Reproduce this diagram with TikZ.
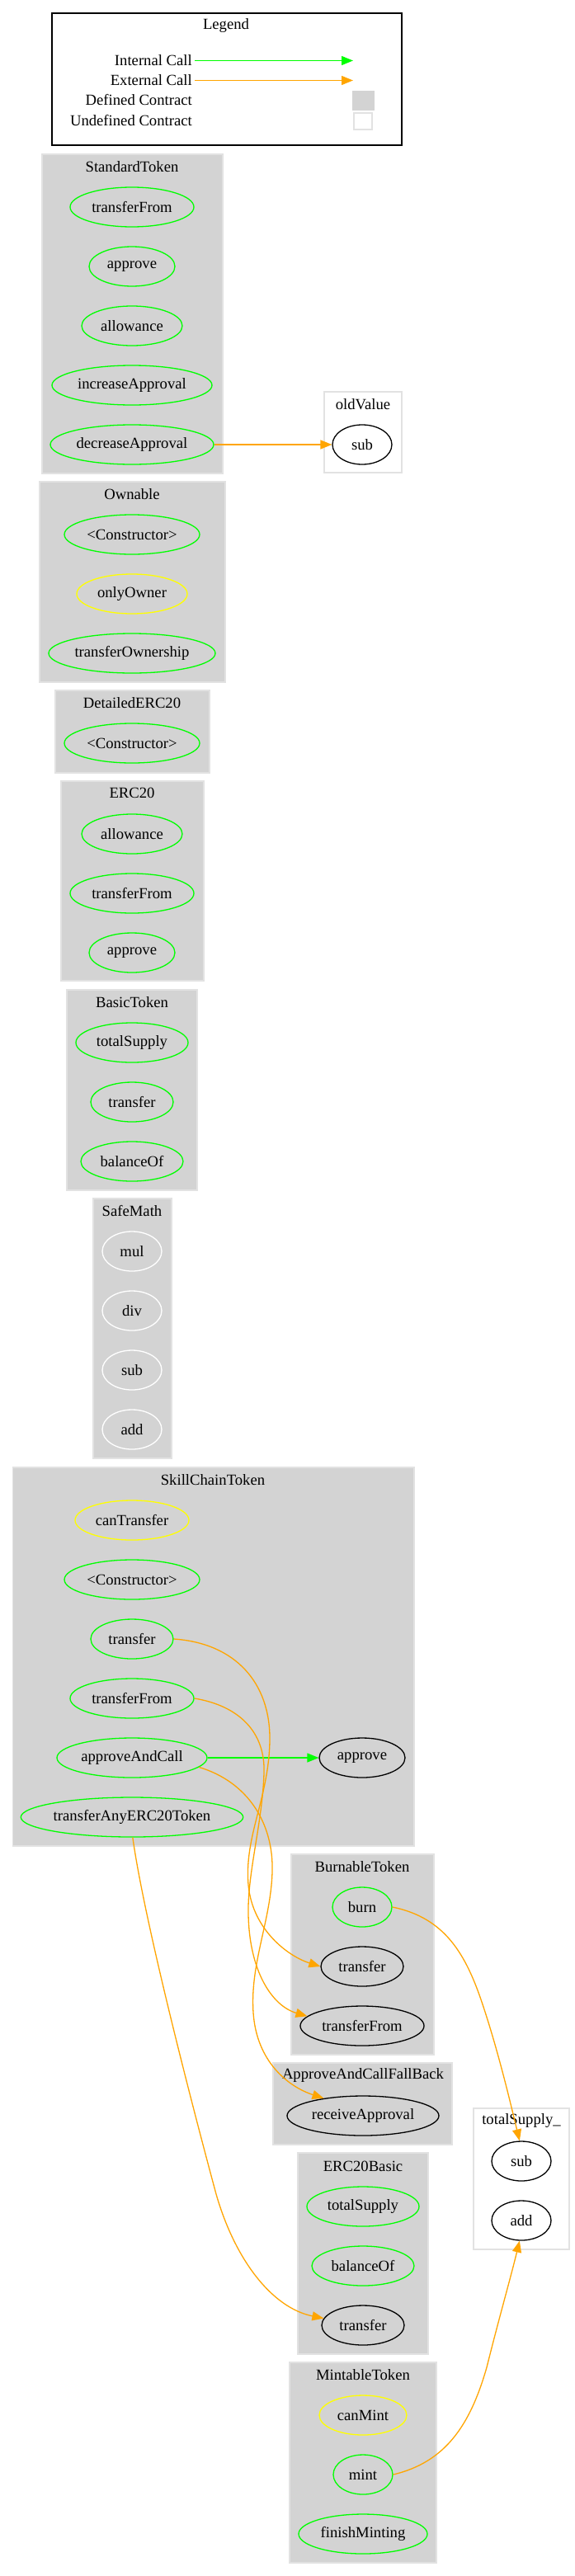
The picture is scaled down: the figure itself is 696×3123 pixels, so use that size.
\documentclass[tikz,border=0pt]{standalone}
\usepackage{fontspec}
\setmainfont{Liberation Serif}
\usetikzlibrary{shapes.geometric,arrows.meta}
\definecolor{ggreen}{HTML}{00FF00}
\definecolor{gorange}{HTML}{FFA500}
\definecolor{gyellow}{HTML}{FFFF00}
\definecolor{glgray}{HTML}{D3D3D3}
\definecolor{gborder}{HTML}{E2E2E2}
\newcommand{\gvfont}{\fontsize{18.67}{22}\selectfont}
\begin{document}
\begin{tikzpicture}[x=1pt,y=-1pt,
  fn/.style={ellipse, draw=ggreen, line width=1.3pt, minimum height=48pt, inner sep=0pt, font=\gvfont},
  fny/.style={fn, draw=gyellow},
  fnw/.style={fn, draw=white},
  fnb/.style={fn, draw=black},
  defc/.style={fill=glgray, draw=gborder, line width=1.3pt},
  undefc/.style={fill=white, draw=gborder, line width=1.3pt},
  ttl/.style={font=\gvfont, inner sep=0pt},
  ext/.style={draw=gorange, line width=1.3pt, -{Triangle[length=14pt,width=11pt]}},
  int/.style={draw=ggreen, line width=1.3pt, -{Triangle[length=14pt,width=11pt]}},
  lgtxt/.style={font=\gvfont, inner sep=0pt, anchor=east}
]
\useasboundingbox[fill=white] (0,0) rectangle (696,3123);

% Legend
\draw[line width=1.3pt] (63,16) rectangle (487,176);
\node[ttl] (lgtitle) at (274,31) {Legend};
\node[lgtxt] (lgint) at (233,73.5) {Internal Call};
\node[lgtxt] (lgext) at (233,97.5) {External Call};
\node[lgtxt] (lgdef) at (233,121.5) {Defined Contract};
\node[lgtxt] (lgund) at (233,146) {Undefined Contract};
\coordinate (lgintend) at (428,73.5);
\coordinate (lgextend) at (428,97.5);
\draw[int] (lgint.east) ++(3,0) -- (lgintend);
\draw[ext] (lgext.east) ++(3,0) -- (lgextend);
\node[fill=glgray, draw=glgray, minimum width=26pt, minimum height=23pt, inner sep=0pt] (lgdefbox) at (440,121.5) {};
\node[fill=white, draw=gborder, line width=1.3pt, minimum width=22pt, minimum height=20pt, inner sep=0pt] (lgundbox) at (440,147) {};

% StandardToken
\draw[defc] (51,187) rectangle (270,574);
\node[ttl] (tst) at (160,202) {StandardToken};
\node[fn, minimum width=150pt] (sttf) at (160,251) {transferFrom};
\node[fn, minimum width=104pt] (stap) at (160,323) {approve};
\node[fn, minimum width=122pt] (stal) at (160,395) {allowance};
\node[fn, minimum width=194pt] (stia) at (160,467) {increaseApproval};
\node[fn, minimum width=198pt] (stda) at (160,539) {decreaseApproval};

% oldValue
\draw[undefc] (393,475) rectangle (487,573);
\node[ttl] (tov) at (440,490) {oldValue};
\node[fnb, minimum width=72pt] (ovsub) at (439,539) {sub};

% Ownable
\draw[defc] (48,584) rectangle (273,827);
\node[ttl] (tow) at (160,599) {Ownable};
\node[fn, minimum width=164pt] (owc) at (160,648) {<Constructor>};
\node[fny, minimum width=134pt] (owo) at (160,720) {onlyOwner};
\node[fn, minimum width=202pt] (owt) at (160,792) {transferOwnership};

% DetailedERC20
\draw[defc] (67,837) rectangle (254,937);
\node[ttl] (tde) at (160,852) {DetailedERC20};
\node[fn, minimum width=164pt] (dec) at (160,901) {<Constructor>};

% ERC20
\draw[defc] (74,947) rectangle (247,1189);
\node[ttl] (te) at (160,961) {ERC20};
\node[fn, minimum width=122pt] (eal) at (160,1011) {allowance};
\node[fn, minimum width=150pt] (etf) at (160,1083) {transferFrom};
\node[fn, minimum width=104pt] (eap) at (160,1155) {approve};

% BasicToken
\draw[defc] (81,1200) rectangle (239,1443);
\node[ttl] (tbt) at (160,1215) {BasicToken};
\node[fn, minimum width=136pt] (btts) at (160,1264) {totalSupply};
\node[fn, minimum width=100pt] (bttr) at (160,1336) {transfer};
\node[fn, minimum width=124pt] (btbo) at (160,1408) {balanceOf};

% SafeMath
\draw[defc] (113,1453) rectangle (208,1768);
\node[ttl] (tsm) at (160,1468) {SafeMath};
\node[fnw, minimum width=72pt] (smmul) at (160,1517) {mul};
\node[fnw, minimum width=72pt] (smdiv) at (160,1589) {div};
\node[fnw, minimum width=72pt] (smsub) at (160,1661) {sub};
\node[fnw, minimum width=72pt] (smadd) at (160,1733) {add};

% SkillChainToken
\draw[defc] (15.5,1779) rectangle (502,2238);
\node[ttl] (tsct) at (258,1794) {SkillChainToken};
\node[fny, minimum width=138pt] (sctct) at (160,1843) {canTransfer};
\node[fn, minimum width=164pt] (sctc) at (160,1915) {<Constructor>};
\node[fn, minimum width=100pt] (scttr) at (160,1987) {transfer};
\node[fn, minimum width=150pt] (scttf) at (160,2059) {transferFrom};
\node[fn, minimum width=182pt] (sctaac) at (160,2131) {approveAndCall};
\node[fn, minimum width=268pt] (scttae) at (160,2203) {transferAnyERC20Token};
\node[fnb, minimum width=104pt] (sctap) at (439,2131) {approve};

% BurnableToken
\draw[defc] (353,2248) rectangle (526,2491);
\node[ttl] (tbn) at (439,2263) {BurnableToken};
\node[fn, minimum width=72pt] (bnburn) at (439,2312) {burn};
\node[fnb, minimum width=100pt] (bntr) at (439,2384) {transfer};
\node[fnb, minimum width=150pt] (bntf) at (439,2456) {transferFrom};

% ApproveAndCallFallBack
\draw[defc] (331,2501) rectangle (548,2600);
\node[ttl] (tac) at (440,2516) {ApproveAndCallFallBack};
\node[fnb, minimum width=184pt] (acra) at (440,2565) {receiveApproval};

% ERC20Basic
\draw[defc] (361,2610) rectangle (519,2854);
\node[ttl] (teb) at (440,2626) {ERC20Basic};
\node[fn, minimum width=136pt] (ebts) at (440,2675) {totalSupply};
\node[fn, minimum width=124pt] (ebbo) at (440,2747) {balanceOf};
\node[fnb, minimum width=100pt] (ebtr) at (440,2819) {transfer};

% MintableToken
\draw[defc] (351,2864) rectangle (529,3107);
\node[ttl] (tmt) at (440,2879) {MintableToken};
\node[fny, minimum width=106pt] (mtcm) at (440,2928) {canMint};
\node[fn, minimum width=72pt] (mtmint) at (440,3000) {mint};
\node[fn, minimum width=156pt] (mtfm) at (440,3072) {finishMinting};

% totalSupply_
\draw[undefc] (574,2556) rectangle (690,2727);
\node[ttl] (tts) at (632,2571) {totalSupply\_};
\node[fnb, minimum width=72pt] (tssub) at (632,2620) {sub};
\node[fnb, minimum width=72pt] (tsadd) at (632,2692) {add};

% Edges
\draw[ext] (stda.east) -- (ovsub.west);
\draw[int] (sctaac.east) -- (sctap.west);
\draw[ext] (scttr.east) .. controls (285,1992) and (328,2040) .. (327,2110)
  .. controls (326,2180) and (296,2225) .. (301,2285)
  .. controls (306,2340) and (350,2372) .. (bntr.west);
\draw[ext] (scttf.east) .. controls (290,2068) and (322,2100) .. (320,2150)
  .. controls (318,2210) and (300,2270) .. (301,2320)
  .. controls (302,2390) and (330,2432) .. (bntf.170);
\draw[ext] (sctaac.-8) .. controls (300,2160) and (332,2210) .. (330,2270)
  .. controls (328,2330) and (303,2380) .. (307,2440)
  .. controls (311,2500) and (350,2530) .. (acra.156);
\draw[ext] (scttae.-88) .. controls (175,2330) and (235,2560) .. (262,2660)
  .. controls (285,2740) and (330,2798) .. (ebtr.170);
\draw[ext] (bnburn.east) .. controls (540,2325) and (565,2370) .. (585,2430)
  .. controls (605,2490) and (620,2555) .. (tssub.95);
\draw[ext] (mtmint.east) .. controls (540,2985) and (570,2940) .. (590,2870)
  .. controls (605,2810) and (618,2765) .. (tsadd.265);
\end{tikzpicture}
\end{document}
